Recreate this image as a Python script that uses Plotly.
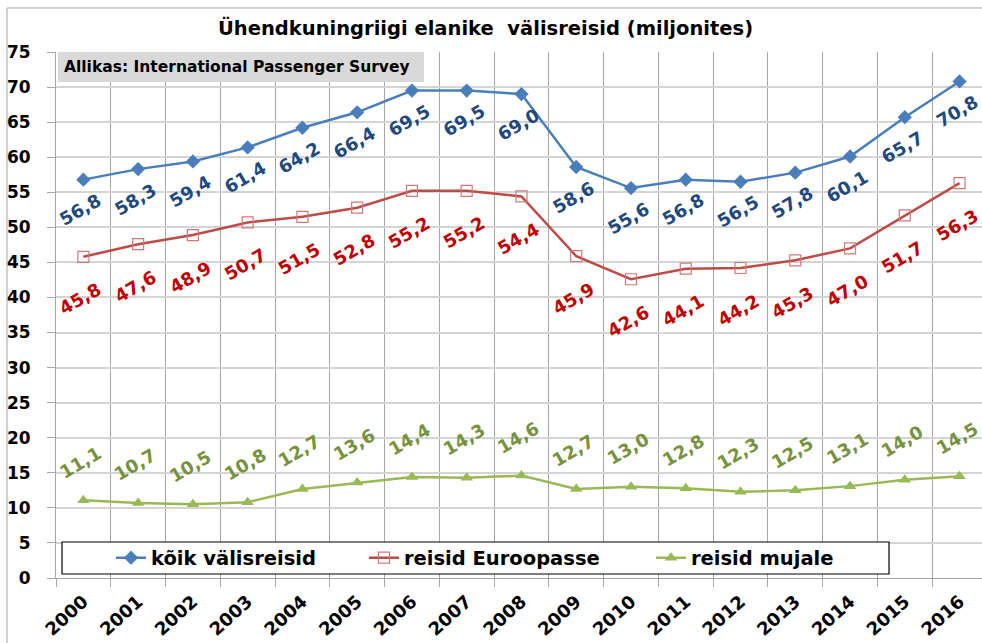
import plotly.graph_objects as go

years = [str(y) for y in range(2000, 2017)]
koik = [56.8, 58.3, 59.4, 61.4, 64.2, 66.4, 69.5, 69.5, 69.0, 58.6, 55.6, 56.8, 56.5, 57.8, 60.1, 65.7, 70.8]
euroopa = [45.8, 47.6, 48.9, 50.7, 51.5, 52.8, 55.2, 55.2, 54.4, 45.9, 42.6, 44.1, 44.2, 45.3, 47.0, 51.7, 56.3]
mujale = [11.1, 10.7, 10.5, 10.8, 12.7, 13.6, 14.4, 14.3, 14.6, 12.7, 13.0, 12.8, 12.3, 12.5, 13.1, 14.0, 14.5]
y_ticks = list(range(0, 80, 5))

FONT = "DejaVu Sans"

# name, values, line colour, label colour, marker, label shift (px), legend id, legend x
series = [
    ("kõik välisreisid", koik, "#4a7ebb", "#1f497d",
     dict(symbol="diamond", size=11, color="#4a7ebb"), -30, "legend", 0.0594),
    ("reisid Euroopasse", euroopa, "#be4b48", "#c00000",
     dict(symbol="square-open", size=11, color="#d07a78", line=dict(width=1.2)), -42, "legend2", 0.3326),
    ("reisid mujale", mujale, "#98b954", "#76923c",
     dict(symbol="triangle-up", size=11, color="#98b954"), 38, "legend3", 0.6425),
]

fig = go.Figure()
annotations = []
legends = {}
for name, vals, lc, tc, mk, shift, leg, lx in series:
    fig.add_trace(go.Scatter(x=years, y=vals, name=name, mode="lines+markers", legend=leg,
                             line=dict(color=lc, width=2.5), marker=mk))
    legends[leg] = dict(orientation="h", x=lx, y=0.038, xanchor="left", yanchor="middle",
                        bgcolor="rgba(0,0,0,0)", itemwidth=30,
                        font=dict(family=FONT, size=19.5, weight="bold", color="black"))
    for i, v in enumerate(vals):
        annotations.append(dict(x=i, y=v, xref="x", yref="y", showarrow=False,
                                text=f"{v:.1f}".replace(".", ","), textangle=-30,
                                xshift=-3, yshift=shift,
                                font=dict(family=FONT, size=18, color=tc, weight="bold")))

annotations.append(dict(x=0.4633, y=1.0456, xref="paper", yref="paper", yanchor="middle",
                        text="<b>Ühendkuningriigi elanike  välisreisid (miljonites)</b>",
                        showarrow=False, font=dict(family=FONT, size=19.5, color="black")))
annotations.append(dict(x=0.0065, y=0.9715, xref="paper", yref="paper", xanchor="left", yanchor="middle",
                        text="<b>Allikas: International Passenger Survey</b>",
                        showarrow=False, font=dict(family=FONT, size=15.5, color="black")))

shapes = [
    dict(type="rect", xref="paper", yref="paper", x0=-0.0529, x1=1.2, y0=-0.3, y1=1.0837,
         line=dict(color="#a6a6a6", width=1), fillcolor="rgba(0,0,0,0)", layer="below"),
    dict(type="rect", xref="paper", yref="paper", x0=0.0022, x1=0.3974, y0=0.943, y1=1.0,
         line=dict(width=0), fillcolor="#d9d9d9", layer="above"),
    dict(type="rect", xref="paper", yref="paper", x0=0.0065, x1=0.8996, y0=0.0076, y1=0.0684,
         line=dict(color="black", width=1.2), fillcolor="white", layer="above"),
]

fig.update_layout(
    width=982, height=643,
    margin=dict(l=56, r=0, t=52, b=65),
    paper_bgcolor="white", plot_bgcolor="white",
    font=dict(family=FONT, color="black"),
    showlegend=True,
    annotations=annotations,
    shapes=shapes,
    **legends,
)
fig.update_xaxes(type="category", range=[-0.5, 16.41], tickson="boundaries",
                 showgrid=True, gridcolor="#a6a6a6", gridwidth=1,
                 showline=True, linecolor="#a6a6a6", linewidth=1,
                 ticks="outside", ticklen=8, tickcolor="#a6a6a6", ticklabelstandoff=5,
                 tickangle=-42, tickfont=dict(family=FONT, size=18, weight="bold"))
fig.update_yaxes(range=[0, 75], tickvals=y_ticks, showgrid=True, gridcolor="#d4d4d4", gridwidth=2,
                 showline=True, linecolor="#a6a6a6", linewidth=1,
                 ticks="outside", ticklen=8, tickcolor="#a6a6a6", zeroline=False,
                 tickfont=dict(family=FONT, size=17, weight="bold"), ticklabelstandoff=13)

# the page's default 8px body margin would push the chart off its place
fig.write_html("out.html", config={"displayModeBar": False},
               post_script="document.body.style.margin = '0px';")
